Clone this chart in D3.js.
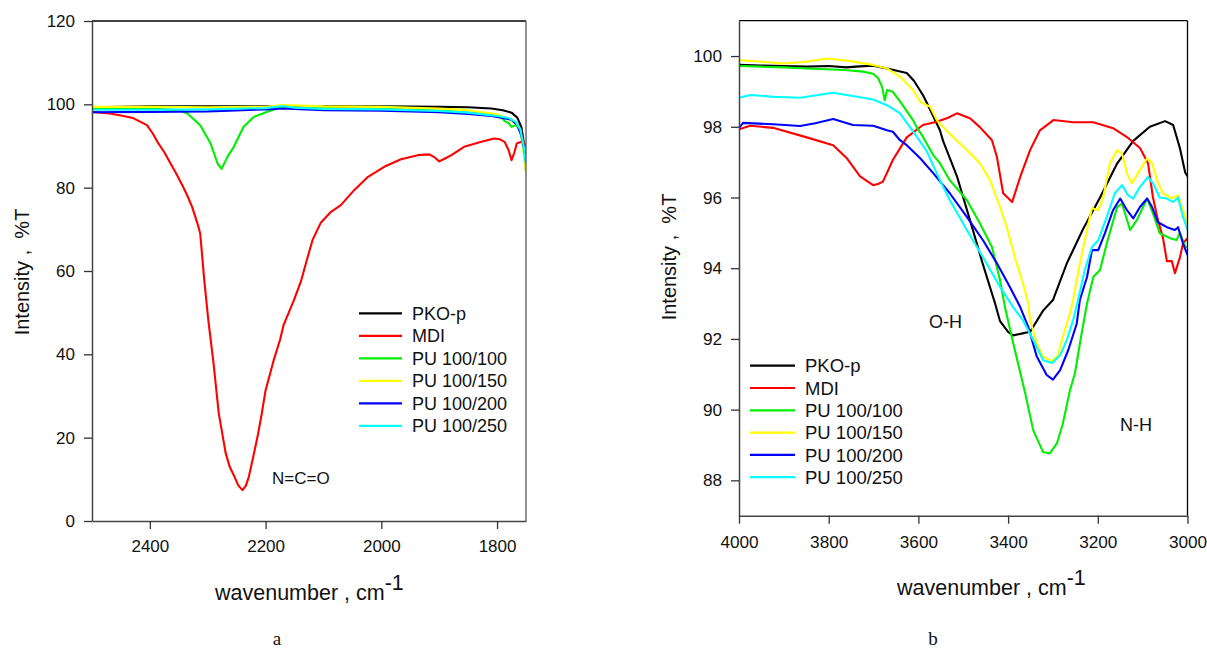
<!DOCTYPE html>
<html><head><meta charset="utf-8">
<script src="https://cdn.jsdelivr.net/npm/d3@7"></script>
<style>
body{margin:0;background:#fff;}
svg{display:block;font-family:"Liberation Sans",Arial,sans-serif;}
</style></head>
<body><svg id="c" width="1207" height="648"></svg>
<script>
// ---------- DATA ----------
const seriesNames = ["PKO-p","MDI","PU 100/100","PU 100/150","PU 100/200","PU 100/250"];
const seriesColors = ["#000000","#ff0000","#00ee00","#ffff00","#0000ff","#00ffff"];

// Panel a : 2500 - 1750 cm-1  [wavenumber, %T]
const a_PKO = [[2500,99.3],[2400,99.5],[2300,99.5],[2200,99.5],[2100,99.5],[2000,99.5],[1900,99.4],[1850,99.3],[1810,99.0],[1790,98.6],[1775,98.0],[1765,96.8],[1758,94.5],[1754,91],[1751,86],[1750,84]];
const a_MDI = [[2500,98.2],[2470,97.8],[2450,97.3],[2429,96.7],[2405,95],[2395,93],[2387,91],[2375,88.5],[2365,86],[2355,83.5],[2344,80.6],[2335,78],[2327,75.4],[2318,71.5],[2313,69],[2306,57.8],[2299,48.2],[2290,37.9],[2281,25.9],[2269,16.3],[2262,13],[2255,11],[2247,8.5],[2240,7.4],[2234,8.5],[2229,10.6],[2222,15],[2214,20.2],[2207,25.5],[2200,31.4],[2193,35],[2186,38.6],[2175,43.5],[2169,47],[2160,50],[2151,53],[2139,57.5],[2128,63],[2119,67.4],[2105,71.5],[2087,74.2],[2070,75.8],[2047,79.4],[2023,82.6],[1995,85],[1966,86.8],[1937,87.8],[1917,88],[1907,87.2],[1900,86.3],[1890,87],[1879,87.8],[1857,89.8],[1827,91],[1805,91.8],[1795,91.6],[1787,91],[1780,89],[1775,86.6],[1770,88.5],[1766,90.6],[1758,91],[1752,90.5],[1750,89.8]];
const a_PU100 = [[2500,99.0],[2400,99.0],[2350,98.6],[2335,97.8],[2313,95],[2295,90.6],[2283,85.8],[2276,84.5],[2266,87.4],[2255,89.8],[2238,94.6],[2220,97],[2197,98.2],[2168,99.6],[2150,99.3],[2100,99.1],[2000,98.9],[1900,98.5],[1850,98.0],[1800,97.3],[1790,96.5],[1787,96.0],[1780,95.5],[1775,94.6],[1768,95],[1760,94],[1755,90],[1750,84]];
const a_PU150 = [[2500,99.4],[2400,99.4],[2300,99.3],[2200,99.4],[2170,99.8],[2100,99.5],[2000,99.4],[1900,99.0],[1850,98.6],[1800,97.6],[1780,96.5],[1770,95.5],[1760,94],[1755,90],[1750,83.5]];
const a_PU200 = [[2500,98.1],[2400,98.2],[2300,98.3],[2200,98.8],[2170,99.0],[2100,98.6],[2000,98.5],[1900,98.1],[1850,97.7],[1810,97.2],[1790,96.7],[1775,96.3],[1765,95],[1758,92.5],[1753,89],[1750,86]];
const a_PU250 = [[2500,98.7],[2400,98.7],[2300,98.8],[2200,99.1],[2170,99.6],[2150,99.2],[2100,98.9],[2000,98.8],[1900,98.4],[1850,98.0],[1800,97.2],[1780,96.7],[1768,95.8],[1760,94],[1754,90],[1750,85.5]];

// Panel b : 4000 - 3000 cm-1
const b_PKO = [[4000,99.75],[3950,99.73],[3900,99.72],[3850,99.7],[3800,99.72],[3760,99.68],[3740,99.7],[3701,99.73],[3660,99.62],[3626,99.52],[3610,99.3],[3590,98.9],[3581,98.67],[3552,97.9],[3545,97.6],[3514,96.6],[3485,95.36],[3456,94.1],[3429,93.0],[3418,92.5],[3400,92.2],[3389,92.1],[3370,92.15],[3351,92.2],[3322,92.8],[3300,93.1],[3269,94.14],[3233,95.1],[3195,96.0],[3157,96.96],[3121,97.6],[3084,98.0],[3050,98.16],[3032,98.05],[3017,97.4],[3005,96.7],[3000,96.6]];
const b_MDI = [[4000,97.93],[3975,98.03],[3950,98.0],[3924,97.97],[3849,97.7],[3790,97.48],[3759,97.1],[3730,96.6],[3701,96.35],[3690,96.38],[3679,96.45],[3657,97.06],[3626,97.7],[3590,98.05],[3559,98.14],[3535,98.25],[3514,98.38],[3485,98.24],[3463,97.99],[3436,97.62],[3425,97.15],[3411,96.12],[3391,95.87],[3373,96.58],[3351,97.34],[3329,97.9],[3299,98.19],[3255,98.13],[3210,98.13],[3166,97.96],[3135,97.71],[3106,97.4],[3088,96.97],[3077,96.0],[3066,95.36],[3055,94.88],[3046,94.2],[3035,94.2],[3028,93.86],[3017,94.3],[3010,94.7],[3000,94.85]];
const b_PU100 = [[4000,99.72],[3950,99.7],[3900,99.68],[3849,99.65],[3790,99.62],[3759,99.6],[3723,99.56],[3701,99.5],[3690,99.38],[3681,99.13],[3675,98.75],[3670,99.04],[3657,98.99],[3641,98.72],[3612,98.19],[3604,97.99],[3590,97.72],[3567,97.2],[3552,96.97],[3530,96.49],[3492,95.93],[3463,95.27],[3436,94.6],[3418,93.66],[3407,92.9],[3389,91.9],[3362,90.47],[3344,89.42],[3322,88.8],[3307,88.76],[3291,89.05],[3278,89.6],[3262,90.55],[3251,91.03],[3236,92.16],[3224,93.0],[3210,93.75],[3195,93.95],[3180,94.7],[3157,95.73],[3146,95.83],[3128,95.08],[3113,95.36],[3090,95.97],[3077,95.55],[3062,94.99],[3039,94.85],[3024,94.8],[3017,95.0],[3005,94.6],[3000,94.6]];
const b_PU150 = [[4000,99.89],[3950,99.84],[3902,99.79],[3849,99.84],[3804,99.93],[3759,99.87],[3701,99.75],[3670,99.65],[3641,99.42],[3612,99.04],[3596,98.71],[3581,98.61],[3574,98.57],[3559,98.19],[3545,97.99],[3523,97.71],[3492,97.34],[3463,96.97],[3440,96.49],[3418,95.73],[3403,95.16],[3385,94.31],[3367,93.58],[3355,93.0],[3351,92.53],[3336,91.87],[3322,91.5],[3302,91.37],[3289,91.54],[3278,92.06],[3262,92.72],[3255,93.1],[3240,94.14],[3224,95.08],[3213,95.7],[3199,95.64],[3188,96.0],[3173,96.97],[3157,97.34],[3146,97.24],[3135,96.69],[3124,96.4],[3106,96.78],[3090,97.11],[3079,96.97],[3068,96.49],[3055,96.12],[3035,95.98],[3021,96.06],[3010,95.64],[3000,95.27]];
const b_PU200 = [[4000,97.96],[3991,98.11],[3924,98.07],[3864,98.02],[3830,98.1],[3790,98.22],[3746,98.05],[3701,98.03],[3670,97.9],[3657,97.86],[3641,97.62],[3626,97.48],[3596,97.11],[3567,96.69],[3530,96.12],[3492,95.45],[3456,94.79],[3425,94.14],[3396,93.47],[3373,92.9],[3355,92.34],[3336,91.5],[3314,90.98],[3300,90.85],[3284,91.12],[3266,91.68],[3247,92.43],[3240,93.1],[3224,93.75],[3213,94.51],[3199,94.51],[3184,94.99],[3166,95.64],[3150,95.97],[3135,95.64],[3121,95.41],[3106,95.73],[3090,95.97],[3079,95.73],[3066,95.3],[3046,95.16],[3028,95.08],[3021,95.16],[3010,94.7],[3000,94.37]];
const b_PU250 = [[4000,98.82],[3975,98.9],[3924,98.85],[3864,98.82],[3790,98.96],[3737,98.85],[3701,98.77],[3670,98.61],[3641,98.38],[3608,97.8],[3581,97.3],[3567,96.9],[3552,96.49],[3530,95.93],[3492,95.08],[3456,94.31],[3418,93.47],[3389,92.9],[3367,92.53],[3344,91.97],[3322,91.4],[3302,91.32],[3284,91.54],[3269,91.97],[3255,92.53],[3244,93.1],[3229,93.95],[3213,94.6],[3199,94.79],[3180,95.45],[3162,96.12],[3146,96.35],[3133,96.07],[3121,95.97],[3106,96.3],[3088,96.58],[3077,96.4],[3062,96.0],[3046,95.97],[3032,95.87],[3021,96.0],[3010,95.45],[3000,95.08]];

const aXTicks = [2400,2200,2000,1800];
const aYTicks = [0,20,40,60,80,100,120];
const bXTicks = [4000,3800,3600,3400,3200,3000];
const bYTicks = [88,90,92,94,96,98,100];

// ---------- DRAW ----------
const svg = d3.select("#c");

function panel(cfg){
  const g = svg.append("g");
  const x = d3.scaleLinear().domain(cfg.xDomain).range([cfg.left, cfg.right]);
  const y = d3.scaleLinear().domain(cfg.yDomain).range([cfg.bottom, cfg.top]);
  const clipId = "clip" + cfg.id;
  svg.append("clipPath").attr("id", clipId).append("rect")
    .attr("x", cfg.left).attr("y", cfg.top).attr("width", cfg.right-cfg.left).attr("height", cfg.bottom-cfg.top);

  const line = d3.line().x(d=>x(d[0])).y(d=>y(d[1])).curve(d3.curveLinear);
  const lg = g.append("g").attr("clip-path", `url(#${clipId})`);
  cfg.series.forEach((s,i)=>{
    lg.append("path").datum(s).attr("d", line).attr("fill","none")
      .attr("stroke", seriesColors[i]).attr("stroke-width", 2.1).attr("stroke-linejoin","round");
  });

  // frame (top, right)
  g.append("line").attr("x1",cfg.left).attr("x2",cfg.right).attr("y1",cfg.top).attr("y2",cfg.top)
    .attr("stroke","#000").attr("stroke-width",1.3);
  g.append("line").attr("x1",cfg.right).attr("x2",cfg.right).attr("y1",cfg.top).attr("y2",cfg.bottom)
    .attr("stroke",cfg.rightColor).attr("stroke-width",1.3);

  const xa = g.append("g").attr("transform",`translate(0,${cfg.bottom})`)
    .call(d3.axisBottom(x).tickValues(cfg.xTicks).tickFormat(d3.format("d")).tickSize(8).tickSizeOuter(0).tickPadding(cfg.xPad));
  const ya = g.append("g").attr("transform",`translate(${cfg.left},0)`)
    .call(d3.axisLeft(y).tickValues(cfg.yTicks).tickFormat(d3.format("d")).tickSize(8).tickSizeOuter(0).tickPadding(9));
  [xa,ya].forEach(a=>{
    a.select(".domain").attr("stroke","#444").attr("stroke-width",1.5);
    a.selectAll(".tick line").attr("stroke","#333").attr("stroke-width",1.3);
    a.selectAll("text").attr("font-family","'Liberation Sans',Arial,sans-serif")
      .attr("font-size",cfg.tickFont).attr("fill","#111");
  });

  // y title
  g.append("text").attr("transform",`translate(${cfg.yTitleX},${cfg.yTitleY}) rotate(-90)`)
    .attr("text-anchor","middle").attr("font-size",20).attr("fill","#111")
    .text("Intensity ,  %T").attr("xml:space","preserve");
  // x title
  const xt = g.append("text").attr("x",cfg.xTitleX).attr("y",cfg.xTitleY)
    .attr("font-size",21.5).attr("fill","#111");
  xt.append("tspan").text("wavenumber , cm");
  xt.append("tspan").attr("dy",-10).text("-1");
  // panel letter
  g.append("text").attr("x",cfg.letterX).attr("y",645).attr("text-anchor","middle")
    .attr("font-family","'Liberation Serif','Times New Roman',serif").attr("font-size",19).attr("fill","#111")
    .text(cfg.letter);

  // legend
  seriesNames.forEach((n,i)=>{
    const yy = cfg.legY + i*cfg.legStep;
    g.append("line").attr("x1",cfg.legX).attr("x2",cfg.legX+cfg.legLen).attr("y1",yy).attr("y2",yy)
      .attr("stroke",seriesColors[i]).attr("stroke-width",2.2);
    g.append("text").attr("x",cfg.legX+cfg.legLen+10).attr("y",yy).attr("dy","0.36em")
      .attr("font-size",cfg.legFont).attr("fill","#111").text(n);
  });

  cfg.notes.forEach(nt=>{
    g.append("text").attr("x",nt.x).attr("y",nt.y).attr("font-size",nt.size).attr("fill","#111").text(nt.t);
  });
}

panel({id:"a", xDomain:[2500,1750], yDomain:[0,120], left:92, right:526, top:21, bottom:521,
  series:[a_PKO,a_MDI,a_PU100,a_PU150,a_PU200,a_PU250], xTicks:aXTicks, yTicks:aYTicks,
  rightColor:"#555", xPad:11, tickFont:17,
  yTitleX:28.5, yTitleY:272, xTitleX:215, xTitleY:600, letter:"a", letterX:277,
  legX:359, legLen:43, legY:313.3, legStep:22.5, legFont:18,
  notes:[{x:272,y:484,size:17,t:"N=C=O"}]});

panel({id:"b", xDomain:[4000,3000], yDomain:[87,101], left:739, right:1187.5, top:20.7, bottom:515.7,
  series:[b_PKO,b_MDI,b_PU100,b_PU150,b_PU200,b_PU250], xTicks:bXTicks, yTicks:bYTicks,
  rightColor:"#000", xPad:12, tickFont:17.2,
  yTitleX:676, yTitleY:257, xTitleX:897, xTitleY:595, letter:"b", letterX:933,
  legX:750, legLen:45, legY:365.7, legStep:22.3, legFont:18.5,
  notes:[{x:929,y:328,size:18,t:"O-H"},{x:1120,y:431,size:18,t:"N-H"}]});
</script>
</body></html>
